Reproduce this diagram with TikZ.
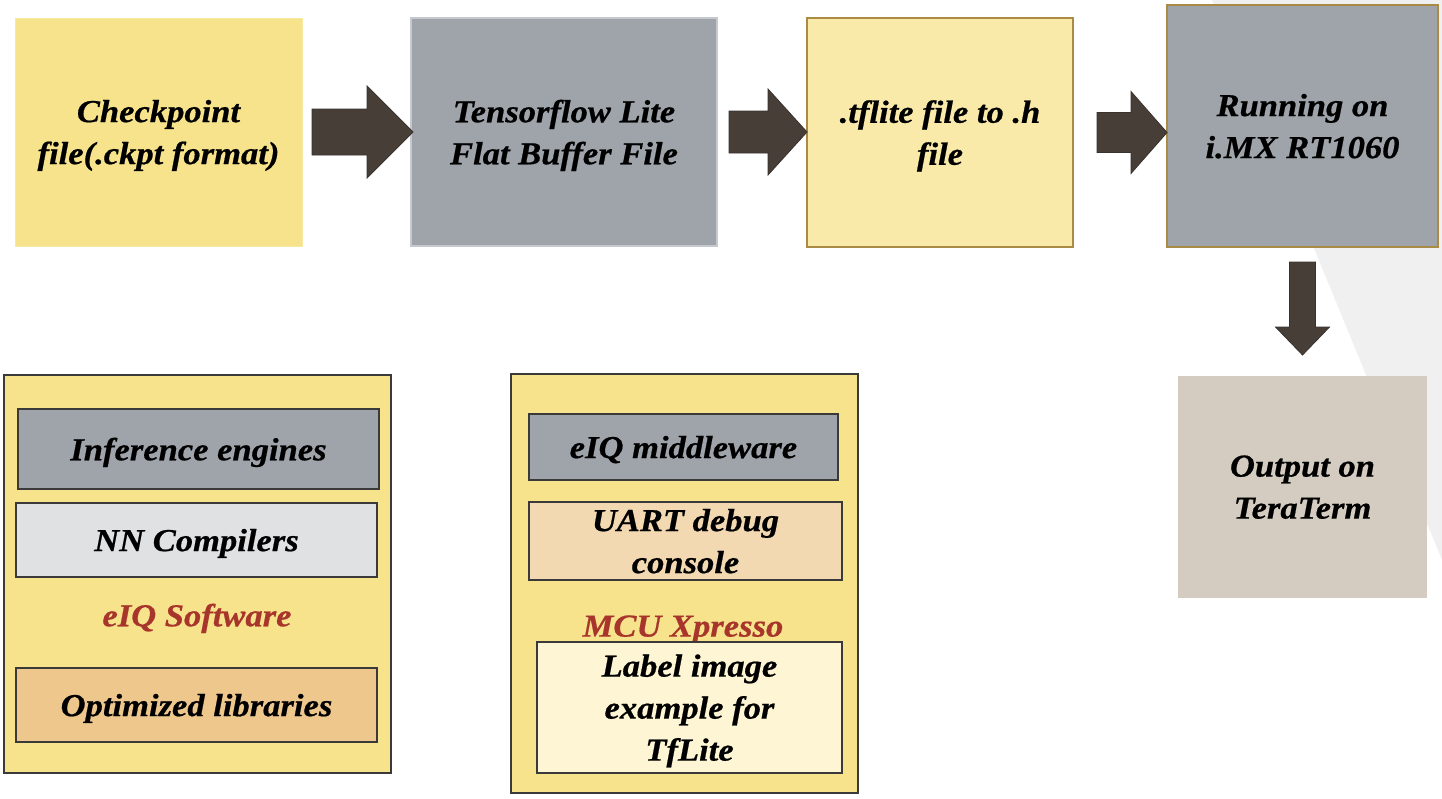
\documentclass[tikz,border=0pt]{standalone}
\usepackage{fontspec}
\setmainfont{Liberation Serif}
\newfontfamily\diagfont[FakeStretch=1.08,FakeBold=0.6]{Liberation Serif}
\usetikzlibrary{calc}
\definecolor{yel}{HTML}{F6E38B}
\definecolor{lyel}{HTML}{F9EAA9}
\definecolor{gry}{HTML}{9EA4AA}
\definecolor{gold}{HTML}{A98B45}
\definecolor{taupe}{HTML}{D4CCC1}
\definecolor{lgry}{HTML}{E0E1E3}
\definecolor{orng}{HTML}{EEC78D}
\definecolor{peach}{HTML}{F3D9B1}
\definecolor{cream}{HTML}{FDF5D3}
\definecolor{redt}{HTML}{A8352B}
\definecolor{arr}{HTML}{473E38}
\definecolor{wedge}{HTML}{F0F0F0}
\definecolor{edge}{HTML}{3A3A3A}
\begin{document}
\begin{tikzpicture}[x=1pt,y=-1pt,
  every node/.style={inner sep=0pt,outer sep=0pt,align=center,text depth=0pt,
    font=\diagfont\bfseries\itshape\fontsize{32}{42}\selectfont},
  plate/.style={draw=edge,line width=2pt,fill=yel},
  inner/.style={draw=edge,line width=2pt},
  blockarr/.style={fill=arr,draw=arr!80!black,line width=0.8pt,line join=miter}]
\useasboundingbox (0,0) rectangle (1442,798);
\fill[wedge] (1212,0) -- (1442,0) -- (1442,560) -- cycle;
% top row
\node[fill=yel,draw=yel!80!white,line width=1pt,minimum width=287pt,minimum height=228pt] (ckpt) at (158.5,132) {Checkpoint\\file(.ckpt format)};
\node[fill=gry,draw=gry!60!white,line width=1.2pt,minimum width=306pt,minimum height=228pt] (tfl) at (564,132) {Tensorflow Lite\\Flat Buffer File};
\node[fill=lyel,draw=gold,line width=2pt,minimum width=266pt,minimum height=229pt] (hfile) at (940,132.5) {.tflite file to .h\\file};
\node[fill=gry,draw=gold,line width=2pt,minimum width=271pt,minimum height=242pt] (run) at (1302.5,126) {Running on\\i.MX RT1060};
\node[fill=taupe,minimum width=249pt,minimum height=222pt] (out) at (1302.5,487) {Output on\\TeraTerm};
% arrows
\path[blockarr] ($(ckpt.east)+(10,-23)$) -- ($(tfl.west)+(-44,-23)$) -- ($(tfl.west)+(-44,-46)$)
  -- ($(tfl.west)+(2,0)$) -- ($(tfl.west)+(-44,46)$) -- ($(tfl.west)+(-44,23)$) -- ($(ckpt.east)+(10,23)$) -- cycle;
\path[blockarr] ($(tfl.east)+(12,-21)$) -- ($(hfile.west |- tfl.east)+(-39,-21)$) -- ($(hfile.west |- tfl.east)+(-39,-43)$)
  -- ($(hfile.west |- tfl.east)+(0,0)$) -- ($(hfile.west |- tfl.east)+(-39,43)$) -- ($(hfile.west |- tfl.east)+(-39,21)$) -- ($(tfl.east)+(12,21)$) -- cycle;
\path[blockarr] ($(hfile.east)+(24,-20)$) -- ($(run.west |- hfile.east)+(-36,-20)$) -- ($(run.west |- hfile.east)+(-36,-41)$)
  -- ($(run.west |- hfile.east)+(0,0)$) -- ($(run.west |- hfile.east)+(-36,41)$) -- ($(run.west |- hfile.east)+(-36,20)$) -- ($(hfile.east)+(24,20)$) -- cycle;
\path[blockarr] ($(run.south)+(-13,15)$) -- ($(out.north)+(-13,-49)$) -- ($(out.north)+(-27,-49)$)
  -- ($(out.north)+(0,-21)$) -- ($(out.north)+(27,-49)$) -- ($(out.north)+(13,-49)$) -- ($(run.south)+(13,15)$) -- cycle;
% eIQ Software plate
\node[plate,minimum width=387pt,minimum height=398pt] (sw) at (197.5,574) {};
\node[inner,fill=gry,minimum width=361pt,minimum height=80pt] (inf) at (198.5,449) {Inference engines};
\node[inner,fill=lgry,minimum width=361pt,minimum height=74pt] (nnc) at (196.5,540) {NN Compilers};
\node[text=redt] (swl) at (197,615) {eIQ Software};
\node[inner,fill=orng,minimum width=361pt,minimum height=74pt] (opt) at (196.5,705) {Optimized libraries};
% MCU Xpresso plate
\node[plate,minimum width=347pt,minimum height=419pt] (mcu) at (684.5,583.5) {};
\node[inner,fill=gry,minimum width=309pt,minimum height=66pt] (mid) at (683.5,447) {eIQ middleware};
\node[inner,fill=peach,minimum width=313pt,minimum height=78pt] (uart) at (685.5,541) {UART debug\\console};
\node[text=redt] (mcul) at (683,626) {MCU Xpresso};
\node[inner,fill=cream,minimum width=305pt,minimum height=131pt] (lab) at (689.5,707.5) {Label image\\example for\\TfLite};
\end{tikzpicture}
\end{document}
